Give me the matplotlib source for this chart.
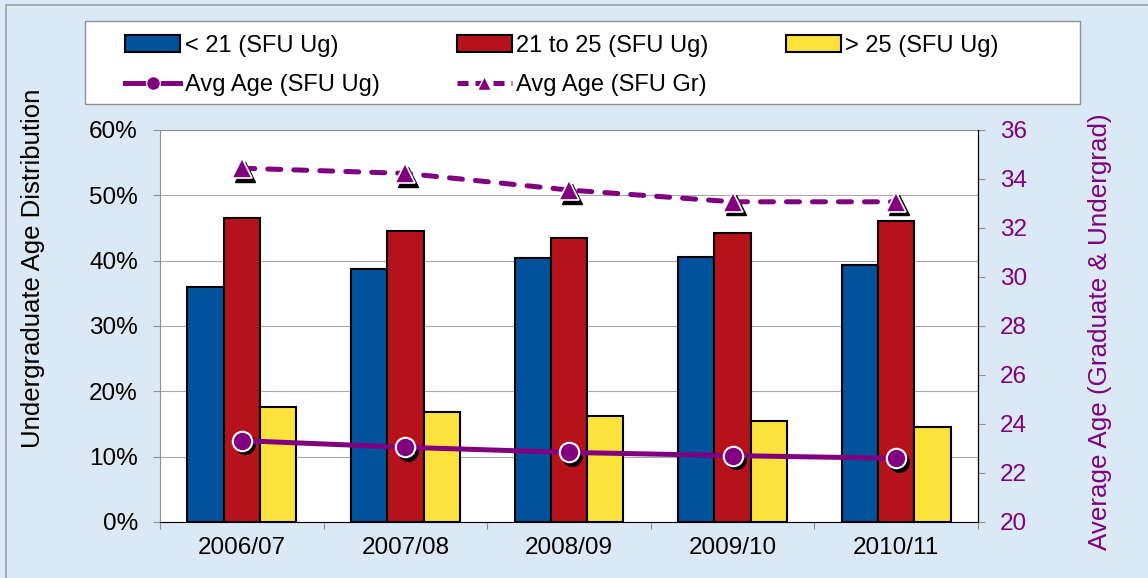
import matplotlib.pyplot as plt
from matplotlib.patches import Rectangle
from matplotlib.transforms import offset_copy
from matplotlib.lines import Line2D
from matplotlib.patches import Patch

plt.rcParams['font.family'] = ['Liberation Sans', 'DejaVu Sans']

years = ['2006/07', '2007/08', '2008/09', '2009/10', '2010/11']
under21 = [36.0, 38.8, 40.4, 40.6, 39.3]
from21to25 = [46.5, 44.6, 43.5, 44.2, 46.1]
over25 = [17.6, 16.9, 16.3, 15.4, 14.6]
avg_ug = [23.32, 23.05, 22.84, 22.71, 22.60]
avg_gr = [34.44, 34.23, 33.55, 33.07, 33.07]

blue = '#00529b'
red = '#b5121b'
yellow = '#fde23b'
purple = '#800080'
bg = '#dbe8f5'

W, H = 1148, 578
fig = plt.figure(figsize=(W / 100, H / 100), dpi=100, facecolor=bg)
# outer border (only top/left visible in the original)
fig.patches.append(Rectangle((6 / W, -0.1), 1.2, 1.1 - 5 / H,
                             transform=fig.transFigure, fill=False,
                             edgecolor='#a0a0a0', lw=1.2, zorder=0))
# legend frame
fig.patches.append(Rectangle((85 / W, 1 - 104 / H), 995 / W, 83 / H,
                             transform=fig.transFigure, facecolor='white',
                             edgecolor='#909090', lw=1.0, zorder=1))

ax = fig.add_axes([160 / W, 1 - 522 / H, 818 / W, 392 / H])
ax.set_facecolor('white')

x = list(range(len(years)))
w = 0.222
ax.bar([i - w for i in x], under21, w, color=blue, edgecolor='black', lw=1.5, zorder=3)
ax.bar(x, from21to25, w, color=red, edgecolor='black', lw=1.5, zorder=3)
ax.bar([i + w for i in x], over25, w, color=yellow, edgecolor='black', lw=1.5, zorder=3)

ax.set_xlim(-0.5, 4.5)
ax.set_ylim(0, 60)
ax.set_yticks(range(0, 61, 10))
ax.set_yticklabels([f'{v}%' for v in range(0, 61, 10)])
ax.grid(axis='y', color='#a8a8a8', lw=0.8, zorder=0)
ax.set_xticks([i - 0.5 for i in range(6)])
ax.set_xticklabels([])
ax.set_xticks(x, minor=True)
ax.set_xticklabels(years, minor=True)
ax.tick_params(axis='x', which='major', length=5, color='#909090')
ax.tick_params(axis='x', which='minor', length=0, pad=11, labelsize=17.5)
ax.tick_params(axis='y', length=5, color='#909090', pad=11, labelsize=17.5)
for s in ['left', 'top']:
    ax.spines[s].set_color('#909090')
    ax.spines[s].set_linewidth(0.8)
ax.spines['bottom'].set_color('black')
ax.spines['right'].set_color('black')

ax2 = ax.twinx()
ax2.set_ylim(20, 36)
ax2.set_yticks(range(20, 37, 2))
ax2.tick_params(axis='y', length=5, color='#909090', pad=11, labelsize=17.5, labelcolor=purple)
ax2.spines['right'].set_color('black')
ax2.spines['top'].set_visible(False)
ax2.spines['left'].set_visible(False)
ax2.spines['bottom'].set_visible(False)

shadow = offset_copy(ax2.transData, fig=fig, x=3, y=-3.5, units='dots')
ax2.plot(x, avg_gr, linestyle='none', marker='^', ms=14, color='black', transform=shadow, zorder=4)
ax2.plot(x, avg_gr, color=purple, lw=3.6, linestyle=(0, (2.6, 2.6)), dash_capstyle='round',
         marker='^', ms=14, mfc=purple, mec='white', mew=1.2, zorder=5)
ax2.plot(x, avg_ug, linestyle='none', marker='o', ms=14, color='black', transform=shadow, zorder=4)
ax2.plot(x, avg_ug, color=purple, lw=3.6, solid_capstyle='round',
         marker='o', ms=14, mfc=purple, mec='white', mew=1.5, zorder=5)

fig.text(33 / W, 1 - 268 / H, 'Undergraduate Age Distribution', rotation=90,
         ha='center', va='center', fontsize=18.5)
fig.text(1100 / W, 1 - 332 / H, 'Average Age (Graduate & Undergrad)', rotation=90,
         ha='center', va='center', fontsize=18.7, color=purple)

handles = [
    Patch(facecolor=blue, edgecolor='black', lw=1.5, label='< 21 (SFU Ug)'),
    Line2D([], [], color=purple, lw=3.6, marker='o', ms=10, mfc=purple, mec='white',
           label='Avg Age (SFU Ug)'),
    Patch(facecolor=red, edgecolor='black', lw=1.5, label='21 to 25 (SFU Ug)'),
    Line2D([], [], color=purple, lw=3.6, linestyle=(0, (2.2, 1.4)), marker='^', ms=10,
           mfc=purple, mec='white', label='Avg Age (SFU Gr)'),
    Patch(facecolor=yellow, edgecolor='black', lw=1.5, label='> 25 (SFU Ug)'),
]
leg = fig.legend(handles=handles, ncol=3, loc='upper left',
                 bbox_to_anchor=(125 / W, 1 - 35 / H),
                 fontsize=17, frameon=False, handlelength=2.33,
                 handletextpad=0.2, borderaxespad=0, borderpad=0,
                 labelspacing=0.72, columnspacing=3.26)
leg.set_zorder(2)

fig.savefig('out.png', dpi=100, facecolor=bg)
